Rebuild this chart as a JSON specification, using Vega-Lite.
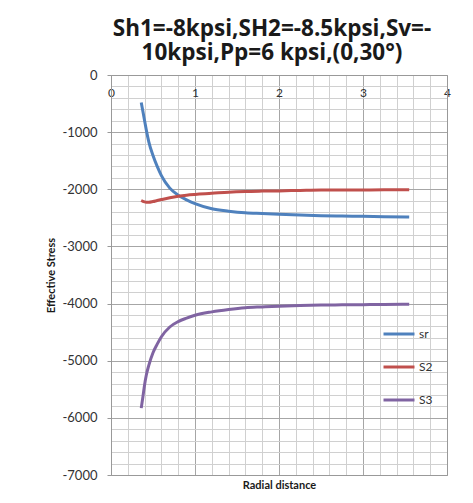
{
  "$schema": "https://vega.github.io/schema/vega-lite/v6.json",
  "width": 336,
  "height": 400,
  "autosize": {"type": "none"},
  "padding": {"left": 111, "top": 75, "right": 26, "bottom": 28},
  "background": "white",
  "config": {"font": "Lato", "view": {"stroke": null}},
  "title": {
    "text": ["Sh1=-8kpsi,SH2=-8.5kpsi,Sv=-", "10kpsi,Pp=6 kpsi,(0,30°)"],
    "font": "Open Sans",
    "fontSize": 22.5,
    "fontWeight": "bold",
    "color": "#1a1a1a",
    "anchor": "middle",
    "frame": "group",
    "baseline": "alphabetic",
    "lineHeight": 24,
    "dx": -7,
    "offset": -13
  },
  "data": {
    "values": [
      {"r": 0.36, "stress": -480, "series": "sr"},
      {"r": 0.38, "stress": -640, "series": "sr"},
      {"r": 0.40, "stress": -800, "series": "sr"},
      {"r": 0.42, "stress": -960, "series": "sr"},
      {"r": 0.45, "stress": -1170, "series": "sr"},
      {"r": 0.50, "stress": -1410, "series": "sr"},
      {"r": 0.55, "stress": -1600, "series": "sr"},
      {"r": 0.60, "stress": -1760, "series": "sr"},
      {"r": 0.70, "stress": -1980, "series": "sr"},
      {"r": 0.80, "stress": -2105, "series": "sr"},
      {"r": 0.90, "stress": -2185, "series": "sr"},
      {"r": 1.00, "stress": -2250, "series": "sr"},
      {"r": 1.20, "stress": -2340, "series": "sr"},
      {"r": 1.40, "stress": -2383, "series": "sr"},
      {"r": 1.60, "stress": -2412, "series": "sr"},
      {"r": 1.80, "stress": -2425, "series": "sr"},
      {"r": 2.00, "stress": -2438, "series": "sr"},
      {"r": 2.25, "stress": -2450, "series": "sr"},
      {"r": 2.50, "stress": -2462, "series": "sr"},
      {"r": 2.75, "stress": -2468, "series": "sr"},
      {"r": 3.00, "stress": -2473, "series": "sr"},
      {"r": 3.25, "stress": -2479, "series": "sr"},
      {"r": 3.55, "stress": -2485, "series": "sr"},
      {"r": 0.36, "stress": -2195, "series": "S2"},
      {"r": 0.38, "stress": -2210, "series": "S2"},
      {"r": 0.40, "stress": -2220, "series": "S2"},
      {"r": 0.42, "stress": -2226, "series": "S2"},
      {"r": 0.45, "stress": -2228, "series": "S2"},
      {"r": 0.50, "stress": -2215, "series": "S2"},
      {"r": 0.55, "stress": -2197, "series": "S2"},
      {"r": 0.60, "stress": -2180, "series": "S2"},
      {"r": 0.70, "stress": -2148, "series": "S2"},
      {"r": 0.80, "stress": -2122, "series": "S2"},
      {"r": 0.90, "stress": -2103, "series": "S2"},
      {"r": 1.00, "stress": -2090, "series": "S2"},
      {"r": 1.20, "stress": -2071, "series": "S2"},
      {"r": 1.40, "stress": -2050, "series": "S2"},
      {"r": 1.60, "stress": -2038, "series": "S2"},
      {"r": 1.80, "stress": -2032, "series": "S2"},
      {"r": 2.00, "stress": -2028, "series": "S2"},
      {"r": 2.25, "stress": -2020, "series": "S2"},
      {"r": 2.50, "stress": -2013, "series": "S2"},
      {"r": 2.75, "stress": -2012, "series": "S2"},
      {"r": 3.00, "stress": -2011, "series": "S2"},
      {"r": 3.25, "stress": -2010, "series": "S2"},
      {"r": 3.55, "stress": -2008, "series": "S2"},
      {"r": 0.36, "stress": -5830, "series": "S3"},
      {"r": 0.38, "stress": -5630, "series": "S3"},
      {"r": 0.40, "stress": -5420, "series": "S3"},
      {"r": 0.42, "stress": -5255, "series": "S3"},
      {"r": 0.45, "stress": -5080, "series": "S3"},
      {"r": 0.50, "stress": -4860, "series": "S3"},
      {"r": 0.55, "stress": -4710, "series": "S3"},
      {"r": 0.60, "stress": -4580, "series": "S3"},
      {"r": 0.70, "stress": -4410, "series": "S3"},
      {"r": 0.80, "stress": -4315, "series": "S3"},
      {"r": 0.90, "stress": -4255, "series": "S3"},
      {"r": 1.00, "stress": -4205, "series": "S3"},
      {"r": 1.20, "stress": -4145, "series": "S3"},
      {"r": 1.40, "stress": -4103, "series": "S3"},
      {"r": 1.60, "stress": -4072, "series": "S3"},
      {"r": 1.80, "stress": -4058, "series": "S3"},
      {"r": 2.00, "stress": -4045, "series": "S3"},
      {"r": 2.25, "stress": -4033, "series": "S3"},
      {"r": 2.50, "stress": -4025, "series": "S3"},
      {"r": 2.75, "stress": -4022, "series": "S3"},
      {"r": 3.00, "stress": -4019, "series": "S3"},
      {"r": 3.25, "stress": -4016, "series": "S3"},
      {"r": 3.55, "stress": -4013, "series": "S3"}
    ]
  },
  "resolve": {"axis": {"x": "independent", "y": "independent"}},
  "layer": [
    {
      "mark": {"type": "point", "opacity": 0},
      "encoding": {
        "x": {
          "field": "r", "type": "quantitative",
          "scale": {"domain": [0, 4], "nice": false, "zero": false},
          "axis": {
            "orient": "bottom",
            "title": "Radial distance",
            "titleFont": "Lato", "titleFontSize": 11, "titleFontWeight": "bold", "titleColor": "#1a1a1a",
            "titlePadding": 4,
            "values": [0.2, 0.4, 0.6, 0.8, 1.2, 1.4, 1.6, 1.8, 2.2, 2.4, 2.6, 2.8, 3.2, 3.4, 3.6, 3.8],
            "labels": false, "ticks": false, "domain": true, "domainColor": "#999999",
            "grid": true, "gridColor": "#d0d0d0", "gridWidth": 1
          }
        },
        "y": {
          "field": "stress", "type": "quantitative",
          "scale": {"domain": [-7000, 0], "nice": false, "zero": false},
          "axis": {
            "orient": "right",
            "title": null,
            "values": [-200, -400, -600, -800, -1200, -1400, -1600, -1800, -2200, -2400, -2600, -2800, -3200, -3400, -3600, -3800, -4200, -4400, -4600, -4800, -5200, -5400, -5600, -5800, -6200, -6400, -6600, -6800],
            "labels": false, "ticks": false, "domain": true, "domainColor": "#999999",
            "grid": true, "gridColor": "#d0d0d0", "gridWidth": 1
          }
        }
      }
    },
    {
      "mark": {"type": "line", "strokeWidth": 3, "interpolate": "monotone"},
      "encoding": {
        "x": {
          "field": "r", "type": "quantitative",
          "axis": {
            "orient": "top",
            "title": null,
            "values": [0, 1, 2, 3, 4],
            "labelExpr": "datum.value + ''",
            "labelFont": "Lato", "labelFontSize": 12, "labelColor": "#333333",
            "labelBaseline": "middle", "labelPadding": -17, "labelFlush": false,
            "ticks": false, "domain": true, "domainColor": "#999999",
            "grid": true, "gridColor": "#a6a6a6", "gridWidth": 1
          }
        },
        "y": {
          "field": "stress", "type": "quantitative",
          "axis": {
            "orient": "left",
            "title": "Effective Stress",
            "titleFont": "Lato", "titleFontSize": 11, "titleFontWeight": "bold", "titleColor": "#1a1a1a",
            "titlePadding": 6,
            "values": [0, -1000, -2000, -3000, -4000, -5000, -6000, -7000],
            "labelExpr": "datum.value + ''",
            "labelFont": "Lato", "labelFontSize": 13, "labelColor": "#333333",
            "labelPadding": 10,
            "ticks": true, "tickSize": 4, "tickColor": "#999999",
            "domain": true, "domainColor": "#999999",
            "grid": true, "gridColor": "#a6a6a6", "gridWidth": 1
          }
        },
        "color": {
          "field": "series", "type": "nominal",
          "scale": {"domain": ["sr", "S2", "S3"], "range": ["#4F81BD", "#C0504D", "#8064A2"]},
          "legend": {
            "orient": "none",
            "legendX": 271,
            "legendY": 242,
            "title": null,
            "symbolType": "stroke",
            "symbolSize": 961,
            "symbolStrokeWidth": 3,
            "labelFont": "Lato", "labelFontSize": 12, "labelColor": "#333333",
            "labelOffset": 3,
            "rowPadding": 10,
            "padding": 0
          }
        }
      }
    }
  ]
}
